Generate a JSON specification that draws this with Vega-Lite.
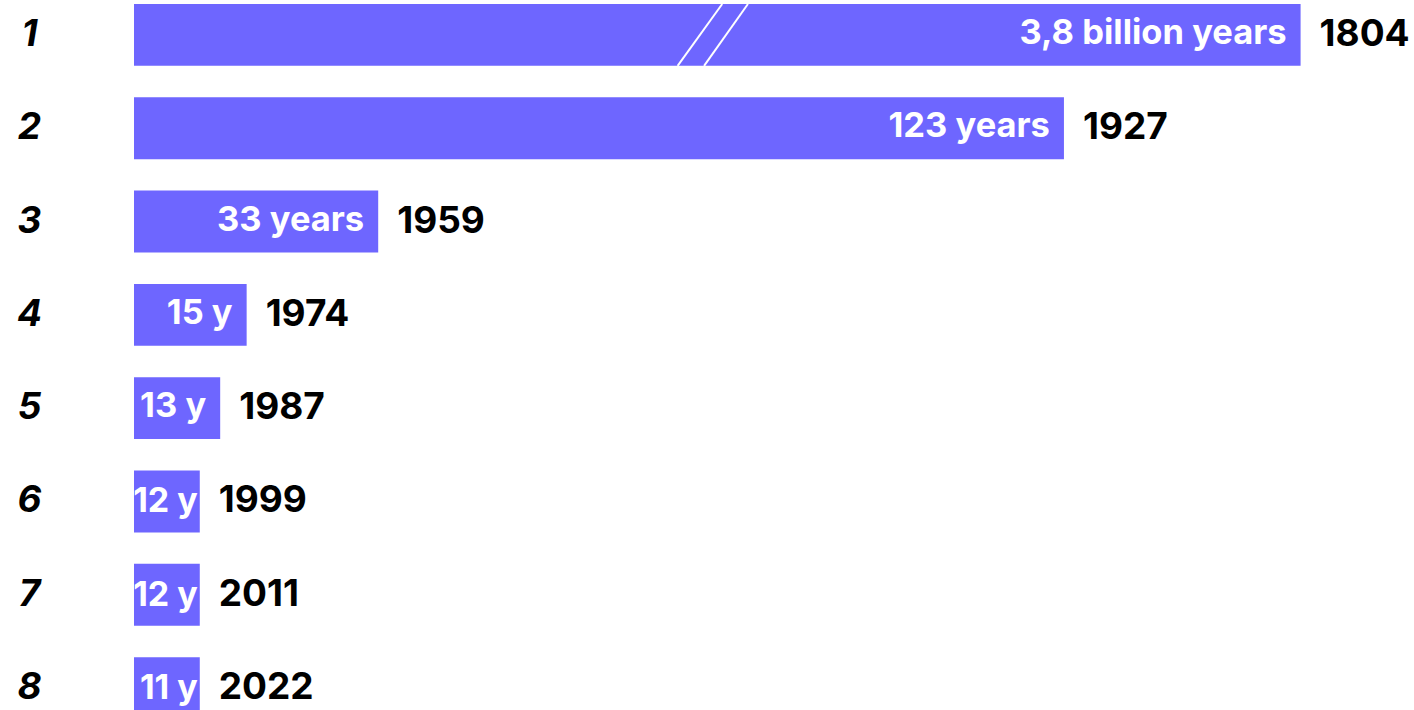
{
  "$schema": "https://vega.github.io/schema/vega-lite/v6.json",
  "autosize": "none",
  "padding": {"left": 134, "top": 0, "right": 0, "bottom": 0},
  "width": 1280,
  "height": 723,
  "background": "white",
  "config": {"view": {"stroke": null}},
  "datasets": {
    "bars": [
      {"rank": "1", "span": "3,8 billion years", "year": "1804", "bar": 154.3, "group": "wide"},
      {"rank": "2", "span": "123 years", "year": "1927", "bar": 123, "group": "wide"},
      {"rank": "3", "span": "33 years", "year": "1959", "bar": 32.3, "group": "wide"},
      {"rank": "4", "span": "15 y", "year": "1974", "bar": 14.9, "group": "wide"},
      {"rank": "5", "span": "13 y", "year": "1987", "bar": 11.4, "group": "wide"},
      {"rank": "6", "span": "12 y", "year": "1999", "bar": 8.7, "group": "narrow"},
      {"rank": "7", "span": "12 y", "year": "2011", "bar": 8.7, "group": "narrow"},
      {"rank": "8", "span": "11 y", "year": "2022", "bar": 8.7, "group": "narrow"}
    ],
    "breaks": [
      {"rank": "1", "bottom": 71.9, "top": 77.8},
      {"rank": "1", "bottom": 75.4, "top": 81.2}
    ]
  },
  "data": {"name": "bars"},
  "encoding": {
    "y": {
      "field": "rank",
      "type": "ordinal",
      "sort": ["1", "2", "3", "4", "5", "6", "7", "8"],
      "scale": {"paddingInner": 0.337, "paddingOuter": 0.043},
      "axis": {
        "title": null,
        "domain": false,
        "ticks": false,
        "grid": false,
        "labelFont": "Inter",
        "labelFontSize": 37,
        "labelFontStyle": "italic",
        "labelFontWeight": "bold",
        "labelColor": "#000000",
        "labelAlign": "center",
        "labelPadding": 105
      }
    }
  },
  "layer": [
    {
      "mark": {"type": "bar", "color": "#6E66FF", "cornerRadius": 0},
      "encoding": {
        "x": {"field": "bar", "type": "quantitative", "scale": {"domain": [0, 169.3], "nice": false, "zero": true}, "axis": null}
      }
    },
    {
      "data": {"name": "breaks"},
      "mark": {"type": "rule", "color": "#FFFFFF", "strokeWidth": 2},
      "encoding": {
        "x": {"field": "bottom", "type": "quantitative"},
        "x2": {"field": "top"},
        "y": {"field": "rank", "type": "ordinal", "bandPosition": 1},
        "y2": {"field": "rank", "bandPosition": 0}
      }
    },
    {
      "transform": [{"filter": "datum.group == 'wide'"}],
      "mark": {"type": "text", "align": "right", "baseline": "middle", "dx": -14, "dy": -1, "font": "Inter", "fontSize": 34.5, "fontWeight": "bold", "color": "#FFFFFF"},
      "encoding": {
        "x": {"field": "bar", "type": "quantitative"},
        "text": {"field": "span"}
      }
    },
    {
      "transform": [{"filter": "datum.group == 'narrow'"}],
      "mark": {"type": "text", "align": "right", "baseline": "middle", "dx": -2, "dy": 1, "font": "Inter", "fontSize": 34, "fontWeight": "bold", "color": "#FFFFFF"},
      "encoding": {
        "x": {"field": "bar", "type": "quantitative"},
        "text": {"field": "span"}
      }
    },
    {
      "mark": {"type": "text", "align": "left", "baseline": "middle", "dx": 19, "font": "Inter", "fontSize": 37, "fontWeight": "bold", "color": "#000000"},
      "encoding": {
        "x": {"field": "bar", "type": "quantitative"},
        "text": {"field": "year"}
      }
    }
  ]
}
